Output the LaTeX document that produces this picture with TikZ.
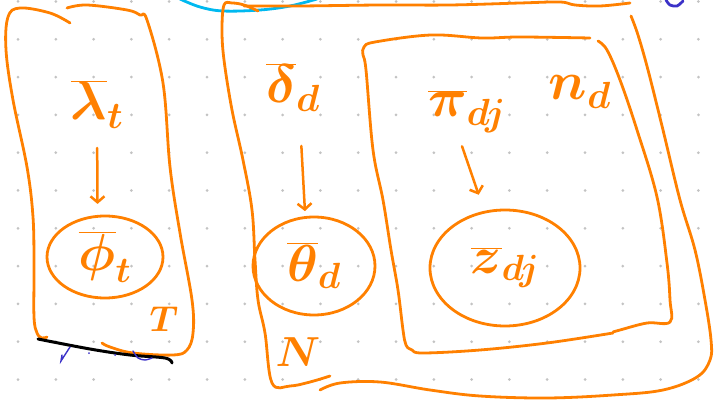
\documentclass[tikz,border=0pt]{standalone}
\usepackage{fix-cm}
\usetikzlibrary{shapes.geometric,arrows.meta}
\definecolor{pen}{RGB}{255,128,0}
\definecolor{dotgray}{RGB}{195,195,195}
\definecolor{skyc}{RGB}{0,185,240}
\definecolor{inkblue}{RGB}{60,50,200}
\tikzset{
  plate/.style={draw=pen, line width=2.8pt, line cap=round, line join=round},
  ell/.style={ellipse, draw=pen, line width=2.8pt, inner sep=0pt, text=pen, font=\fontsize{52}{60}\selectfont\boldmath},
  lbl/.style={text=pen, inner sep=0pt, font=\fontsize{54}{62}\selectfont\boldmath},
  arr/.style={draw=pen, line width=2.5pt, line cap=round, line join=round, -{Straight Barb[length=6pt,width=14pt]}},
}
\begin{document}
\begin{tikzpicture}[x=1pt,y=-1pt]
\useasboundingbox (0,0) rectangle (714,403);
% dotted grid
\foreach \i in {0,...,18}{
  \foreach \j in {0,...,10}{
    \fill[dotgray] ({18+37.8*\i},{1.5+37.8*\j}) circle (1.5pt);
  }
}
% stray marks
\draw[skyc, line width=2.8pt, line cap=round] plot[smooth,tension=0.6] coordinates {(180,-1) (200,7) (223,11) (260,10) (290,6) (317,-1)};
\draw[inkblue, line width=2.8pt, line cap=round] plot[smooth] coordinates {(666,0) (670,5) (677,6) (683,1)};
% left plate
\draw[plate] plot[smooth,tension=0.6] coordinates {(70,23) (50,13) (20,8) (8,17) (6,50) (13,100) (27,167) (33,217) (34,267) (34,317) (37,333) (42,338) (47,337)};
\draw[plate] plot[smooth,tension=0.6] coordinates {(102,343) (110,347) (133,353) (173,355) (187,350) (193,333) (192,300) (180,233) (170,167) (163,83) (147,20) (140,15) (127,10) (87,5) (67,8)};
\draw[black, line width=3pt, line cap=round] plot[smooth,tension=0.6] coordinates {(38,339) (90,349) (130,355) (165,358) (172,363)};
\draw[inkblue, line width=1.4pt, line cap=round] (70,347) -- (61,361) -- (62,355);
\fill[inkblue] (89,353) circle (1pt);
\fill[inkblue] (115,355) circle (1pt);
\draw[inkblue, line width=1.4pt, line cap=round] plot[smooth] coordinates {(133,351) (138,358) (145,360) (152,358)};
% middle outer plate
\draw[plate] plot[smooth,tension=0.6] coordinates {(258,11) (244,5) (232,3) (224,5) (222,30) (224,60) (232,110) (243,160) (252,210) (255,260) (258,300) (265,333) (272,383) (290,386) (310,382) (330,376)};
\draw[plate] plot[smooth,tension=0.6] coordinates {(244,6) (300,6) (380,5) (450,5) (520,3) (560,2) (575,5) (600,6) (630,3)};
\draw[plate] plot[smooth,tension=0.6] coordinates {(320,390) (340,383) (380,382) (430,390) (480,396) (547,398) (613,395) (663,390) (697,377) (710,360) (711,340) (705,300) (695,250) (680,200) (663,130) (648,70) (638,35) (631,16)};
% inner plate
\draw[plate] plot[smooth,tension=0.6] coordinates {(590,38) (520,37) (482,38) (431,35) (375,42) (364,47) (363,55) (366,70) (373,150) (383,200) (391,250) (398,290) (403,330) (406,345) (412,350) (423,353) (480,350) (547,343) (613,333)};
\draw[plate] plot[smooth,tension=0.6] coordinates {(613,332) (620,330) (647,323) (670,322) (670,300) (667,263) (657,197) (637,130) (620,80) (607,50) (598,41)};
% nodes
\node[lbl, anchor=base] (lam) at (97,120) {$\overline{\lambda}_t$};
\node[ell, minimum width=116pt, minimum height=82pt] (phi) at (105,257) {$\overline{\phi}_t$};
\node[lbl, font=\fontsize{36}{42}\selectfont\boldmath] (tlab) at (164,319) {$T$};
\node[lbl, anchor=base] (del) at (293,103) {$\overline{\delta}_d$};
\node[ell, minimum width=122pt, minimum height=98pt] (theta) at (314,266) {$\overline{\theta}_d$};
\node[lbl, font=\fontsize{42}{48}\selectfont\boldmath] (nlab) at (298,352) {$N$};
\node[lbl, anchor=base] (pi) at (467,117) {$\overline{\pi}_{dj}$};
\node[lbl, anchor=base] (nd) at (580,100) {$n_d$};
\node[ell, minimum width=150pt, minimum height=116pt] (z) at (505,268) {$\overline{z}_{dj}$};
% connectors
\draw[arr, shorten <=28pt, shorten >=11pt] ([xshift=0pt]lam.base) -- (phi.100);
\draw[arr, shorten <=43pt, shorten >=5pt] ([xshift=6pt]del.base) -- (theta.100);
\draw[arr, shorten <=31pt, shorten >=17pt] ([xshift=-15pt]pi.base) -- (z.110);
\end{tikzpicture}
\end{document}
